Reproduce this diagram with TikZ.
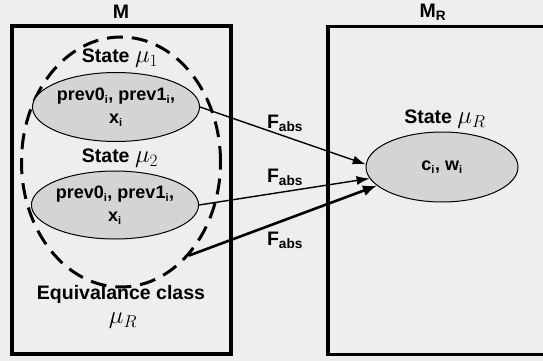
\documentclass[tikz,border=0pt]{standalone}
\usepackage{fontspec}
\setmainfont{Liberation Sans}
\usetikzlibrary{shapes.geometric,arrows.meta}
\definecolor{bgc}{RGB}{238,238,238}
\definecolor{elc}{RGB}{212,212,212}
\newcommand\bigmu[1]{{\fontsize{25}{25}\selectfont$\mu_{#1}$}}
\newcommand\lowi{\textsubscript{\fontsize{11}{11}\selectfont i}}
\tikzset{
  lbl/.style={font=\fontsize{19.5}{22}\selectfont\bfseries, inner sep=0pt},
  stateell/.style={ellipse, draw=black, line width=1pt, fill=elc, inner sep=0pt,
     font=\fontsize{18}{23}\selectfont\bfseries, align=center},
  box/.style={line width=3.5pt},
  thinarr/.style={line width=1.4pt, -{Latex[length=13pt,width=9pt]}},
  thickarr/.style={line width=2.6pt, -{Latex[length=14pt,width=11pt]}},
}
\begin{document}
\begin{tikzpicture}[x=1pt,y=-1pt]
\fill[bgc] (0,0) rectangle (543,361);
\useasboundingbox (0,0) rectangle (543,361);
% boxes
\draw[box] (12,26) rectangle (231,354);
\draw[box] (543,26.5) -- (328,26.5) -- (328,354.5) -- (543,354.5);
\node[lbl] (m) at (121,12) {M};
\node[lbl] (mr) at (433,12) {M\textsubscript{R}};
% equivalence class
\node[ellipse, draw=black, line width=3pt, dash pattern=on 16pt off 9pt,
      minimum width=199pt, minimum height=250pt, inner sep=0pt] (eq) at (121,162) {};
% states
\node[lbl] (s1) at (120,58) {State \bigmu{1}};
\node[stateell, minimum width=154pt, minimum height=69pt] (e1) at (116,107)
   {prev0\lowi, prev1\lowi,\\x\lowi};
\node[lbl] (s2) at (120,158) {State \bigmu{2}};
\node[stateell, minimum width=154pt, minimum height=68pt] (e2) at (115,205)
   {prev0\lowi, prev1\lowi,\\x\lowi};
\node[lbl] (eqt) at (121,294) {Equivalance class};
\node[lbl] (eqm) at (123,321) {\bigmu{R}};
% right state
\node[lbl] (sr) at (445,119) {State \bigmu{R}};
\node[stateell, minimum width=152pt, minimum height=70pt] (er) at (442,167)
   {c\lowi, w\lowi};
% arrows
\draw[thinarr] (e1.east) -- (er.178);
\draw[thinarr] (e2.east) -- (er.189);
\draw[thickarr] (eq.-54) -- (er.196);
\node[lbl] (f1) at (285,123) {F\textsubscript{abs}};
\node[lbl] (f2) at (285,177) {F\textsubscript{abs}};
\node[lbl] (f3) at (285,240) {F\textsubscript{abs}};
\end{tikzpicture}
\end{document}
